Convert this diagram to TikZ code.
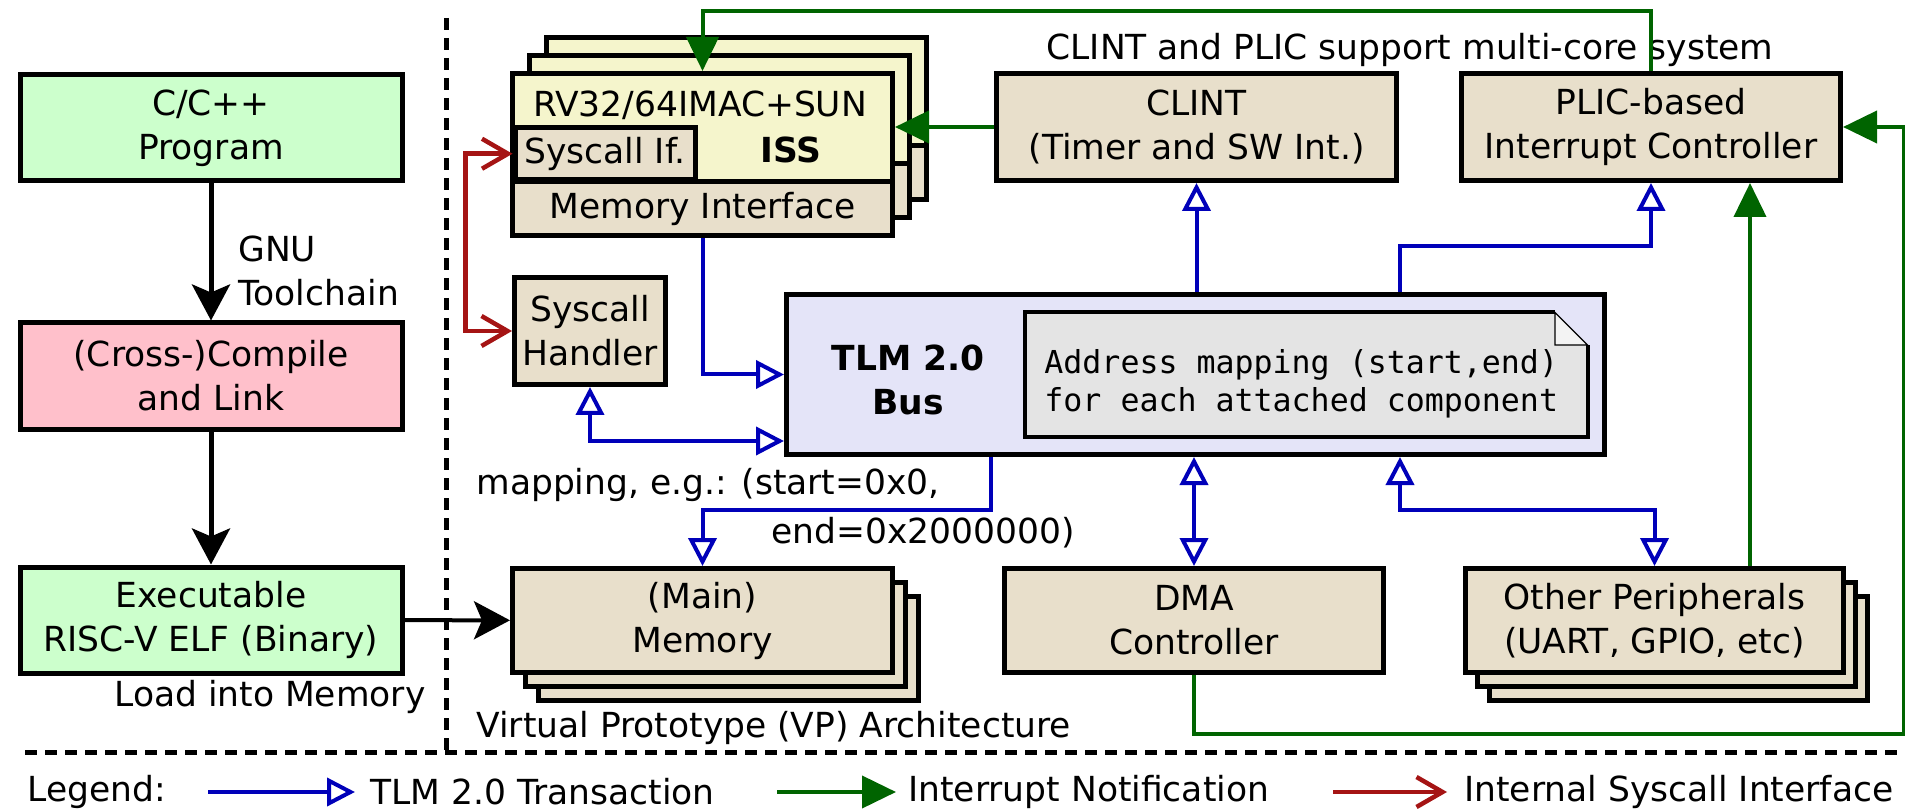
\documentclass[tikz,border=0pt]{standalone}
\usepackage{fontspec}
\setmainfont{DejaVu Sans}
\setmonofont{DejaVu Sans Mono}
\usetikzlibrary{arrows.meta}

\definecolor{srcgreen}{RGB}{204,255,204}
\definecolor{cmppink}{RGB}{255,192,203}
\definecolor{vpbeige}{RGB}{232,223,203}
\definecolor{issyellow}{RGB}{245,245,204}
\definecolor{buslav}{RGB}{228,228,248}
\definecolor{notegrey}{RGB}{228,228,228}
\definecolor{tlmblue}{RGB}{0,0,185}
\definecolor{irqgreen}{RGB}{0,100,0}
\definecolor{sysred}{RGB}{165,20,20}

\begin{document}
\begin{tikzpicture}[x=0.5pt, y=-0.5pt,
  every node/.style={font=\fontsize{17.25}{22}\selectfont, align=center, inner sep=0pt},
  box/.style={draw, line width=2.5pt},
  srcbox/.style={box, fill=srcgreen, minimum width=191pt, minimum height=53pt},
  cmpbox/.style={srcbox, fill=cmppink},
  vpbox/.style={box, fill=vpbeige, minimum width=190pt, minimum height=52pt},
  ctrlbox/.style={vpbox, minimum height=53.5pt},
  corebox/.style={box, fill=issyellow, minimum width=190pt, minimum height=81pt},
  bandbox/.style={box, fill=vpbeige, minimum width=190pt, minimum height=26.75pt},
  lbl/.style={anchor=west, align=left},
  bold/.style={font=\fontsize{17.25}{22}\selectfont\bfseries},
  flow/.style={draw, line width=2.5pt, -{Stealth[length=18pt, width=19pt, inset=4pt]}},
  tlm/.style={draw=tlmblue, line width=2pt, -{Triangle[open, length=14pt, width=14pt]}},
  tlm both/.style={tlm, {Triangle[open, length=14pt, width=14pt]}-{Triangle[open, length=14pt, width=14pt]}},
  irq/.style={draw=irqgreen, line width=2pt, -{Triangle[length=17pt, width=16pt]}},
  sys/.style={draw=sysred, line width=2.25pt, -{Straight Barb[length=13pt, width=15pt]}},
  sys both/.style={sys, {Straight Barb[length=13pt, width=15pt]}-{Straight Barb[length=13pt, width=15pt]}},
  divider/.style={line width=2.5pt, dash pattern=on 6pt off 4pt}]

\useasboundingbox (0,0) rectangle (1905,812);

\node [srcbox] (src) at (211,128) {C/C++\\Program};
\node [cmpbox] (cmp) at (211,376) {(Cross-)Compile\\and Link};
\node [srcbox] (elf) at (211,620) {Executable\\RISC-V ELF (Binary)};
\node [lbl] (gnu) at (238,271) {GNU\\Toolchain};
\node [lbl] (load) at (114,697) {Load into Memory};

\foreach \i in {2,1} {
  \node [corebox] (core-\i) at (702.5+17*\i,154.5-18*\i) {};
  \node [bandbox] (band-\i) at (702.5+17*\i,208.75-18*\i) {};
}
\node [corebox] (iss) at (702.5,154.5) {};
\node [bandbox] (memif) at (702.5,208.75) {Memory Interface};
\node [box, fill=vpbeige, minimum width=90pt, minimum height=25.75pt, anchor=south west] (sysif) at (512.5,182) {Syscall If.};
\node (isstitle) at (700,105) {RV32/64IMAC+SUN};
\node [bold] (isslabel) at (791,150) {ISS};

\node [box, fill=vpbeige, minimum width=75.5pt, minimum height=53.5pt] (handler) at (590,331) {Syscall\\Handler};

\node [box, fill=buslav, minimum width=409pt, minimum height=80pt] (bus) at (1195.5,374.5) {};
\node [bold] (bustext) at (908,380) {TLM 2.0\\Bus};
\fill [notegrey] (1024.5,312.5) -- (1555,312.5) -- (1587.5,345) -- (1587.5,436.5) -- (1024.5,436.5) -- cycle;
\draw [line width=2pt] (1555,312.5) -- (1024.5,312.5) -- (1024.5,436.5) -- (1587.5,436.5) -- (1587.5,345);
\filldraw [fill=white!55!notegrey, line width=0.6pt] (1555,312.5) -- (1555,345) -- (1587.5,345) -- cycle;
\node [lbl, font=\fontsize{15.8}{19}\selectfont\ttfamily] (map) at (1044,384) {Address mapping (start,end)\\for each attached component};

\node [ctrlbox, minimum width=200pt] (clint) at (1196.5,127) {CLINT\\(Timer and SW Int.)};
\node [ctrlbox, minimum width=189.5pt] (plic) at (1651,127) {PLIC-based\\Interrupt Controller};
\node (multi) at (1410,50) {CLINT and PLIC support multi-core system};

\foreach \i in {2,1}
  \node [vpbox] (mem-\i) at (702.5+13*\i,620.5+14*\i) {};
\node [vpbox] (mem) at (702.5,620.5) {(Main)\\Memory};
\node [vpbox, minimum width=189.5pt] (dma) at (1194,620.5) {DMA\\Controller};
\foreach \i in {2,1}
  \node [vpbox, minimum width=189pt] (per-\i) at (1654.5+12*\i,620.5+14*\i) {};
\node [vpbox, minimum width=189pt] (per) at (1654.5,620.5) {Other Peripherals\\(UART, GPIO, etc)};

\node [lbl] (maptext) at (476,485) {mapping, e.g.: (start=0x0,};
\node [lbl] (maptext-2) at (771,533) {end=0x2000000)};
\node [lbl] (vp) at (476,728) {Virtual Prototype (VP) Architecture};

\draw [flow] (src) -- (cmp);
\draw [flow] (cmp) -- (elf);
\draw [flow, line width=2pt] (elf) -- (mem);

\draw [tlm] (memif.south) |- (bus.west);
\draw [tlm both] (handler.south) |- ([yshift=8pt]bus.south west);
\draw [tlm] (clint.south |- bus.north) -- (clint.south);
\draw [tlm] ([xshift=102.25pt]bus.north) -- ++(0,-46) -| (plic.south);
\draw [tlm] ([xshift=-102.25pt]bus.south) -- ++(0,53) -| (mem.north);
\draw [tlm both] (dma.north |- bus.south) -- (dma.north);
\draw [tlm both] ([xshift=102.25pt]bus.south) -- ++(0,53) -| (per.north);

\draw [irq] (plic.north) -- ++(0,-60) -| (iss.north);
\draw [irq] (clint.west) -- (clint.west -| iss.east);
\coordinate (perirq) at ([xshift=47.75pt]per.north);
\draw [irq] (perirq) -- (perirq |- plic.south);
\draw [irq] (dma.south) -- ++(0,59) -| ([xshift=30.25pt]plic.east) -- (plic.east);

\draw [sys both] (sysif.west) -- ++(-47,0) |- (handler.west);

\draw [divider] (446,18) -- (446,752);
\draw [divider] (25,752) -- (1905,752);

\node [lbl] (legend) at (27,792) {Legend:};
\node [lbl] (lg-tlm) at (370,792) {TLM 2.0 Transaction};
\node [lbl] (lg-irq) at (908,792) {Interrupt Notification};
\node [lbl] (lg-sys) at (1464,792) {Internal Syscall Interface};
\draw [tlm] ([xshift=-81pt]lg-tlm.west) -- ([xshift=-7.5pt]lg-tlm.west);
\draw [irq] ([xshift=-65.5pt]lg-irq.west) -- ([xshift=-6pt]lg-irq.west);
\draw [sys] ([xshift=-65.5pt]lg-sys.west) -- ([xshift=-8.5pt]lg-sys.west);

\end{tikzpicture}
\end{document}
